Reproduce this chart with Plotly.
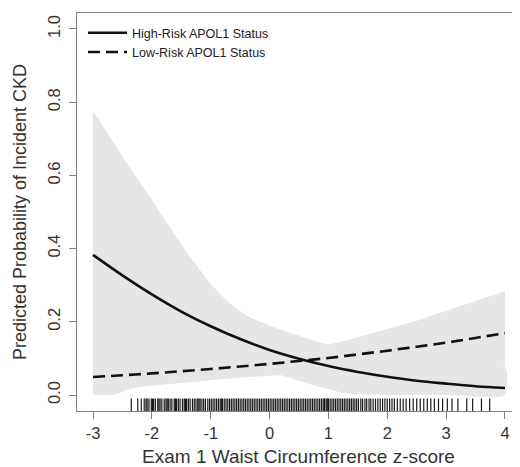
import plotly.graph_objects as go

# ---- data ----
x_grid = [-3, -2.5, -2, -1.5, -1, -0.5, 0, 0.5, 1, 1.5, 2, 2.5, 3, 3.5, 4]
high_risk = [0.383, 0.327, 0.275, 0.228, 0.188, 0.153, 0.123, 0.099, 0.079,
             0.063, 0.050, 0.039, 0.031, 0.024, 0.019]
low_risk = [0.049, 0.054, 0.059, 0.065, 0.071, 0.078, 0.085, 0.093, 0.101,
            0.111, 0.121, 0.132, 0.143, 0.156, 0.169]

# high-risk confidence band
hr_up_x = [-3, -2.75, -2.5, -2.25, -2, -1.75, -1.5, -1.25, -1, -0.75, -0.5,
           -0.25, 0, 0.25, 0.5, 0.75, 1, 1.5, 2, 2.5, 3, 3.5, 4]
hr_up_y = [0.776, 0.715, 0.652, 0.592, 0.533, 0.472, 0.412, 0.356, 0.304,
           0.262, 0.229, 0.206, 0.19, 0.175, 0.162, 0.149, 0.137, 0.118, 0.105,
           0.095, 0.088, 0.082, 0.077]
hr_lo_x = [-3, -2.5, -2, -1.5, -1, -0.5, 0, 0.17, 0.74, 1.31, 2, 3, 4]
hr_lo_y = [0.02, 0.04, 0.06, 0.075, 0.08, 0.075, 0.062, 0.055, 0.027, 0.004,
           0.0, 0.0, 0.0]

# low-risk confidence band
lr_up_x = [-3, -2, -1, 0, 0.5, 1, 1.5, 2, 2.5, 3, 3.5, 4]
lr_up_y = [0.12, 0.11, 0.11, 0.115, 0.125, 0.137, 0.158, 0.18, 0.203, 0.23,
           0.258, 0.284]
lr_lo_x = [-3, -2.66, -2.32, -2, -1.5, -1, -0.5, 0, 0.17, 0.5, 1, 2, 3, 4]
lr_lo_y = [0.0, 0.0, 0.019, 0.025, 0.033, 0.040, 0.048, 0.053, 0.055, 0.058,
           0.062, 0.07, 0.075, 0.08]

# rug of observed waist circumference z-scores
rug_x = [-2.35, -2.24, -2.18, -2.13, -2.1, -2.08, -2.05, -2.01, -1.99, -1.97,
         -1.94, -1.9, -1.88, -1.86, -1.83, -1.79, -1.76, -1.74, -1.72, -1.69,
         -1.66, -1.62, -1.6, -1.58, -1.55, -1.52, -1.48, -1.45, -1.43, -1.41,
         -1.38, -1.35, -1.31, -1.28, -1.25, -1.22, -1.2, -1.18, -1.15, -1.12,
         -1.09, -1.05, -1.02, -0.99, -0.96, -0.93, -0.9, -0.87, -0.84, -0.82,
         -0.8, -0.77, -0.74, -0.71, -0.68, -0.65, -0.62, -0.59, -0.56, -0.53,
         -0.5, -0.47, -0.44, -0.41, -0.38, -0.35, -0.32, -0.29, -0.26, -0.23,
         -0.2, -0.17, -0.14, -0.11, -0.08, -0.05, -0.02, 0.01, 0.04, 0.07, 0.1,
         0.13, 0.16, 0.19, 0.22, 0.25, 0.28, 0.31, 0.34, 0.37, 0.4, 0.43, 0.46,
         0.49, 0.52, 0.55, 0.58, 0.61, 0.64, 0.67, 0.7, 0.73, 0.76, 0.79, 0.82,
         0.85, 0.88, 0.91, 0.93, 0.94, 0.97, 0.99, 1.0, 1.03, 1.06, 1.09, 1.12,
         1.15, 1.18, 1.21, 1.24, 1.27, 1.3, 1.33, 1.36, 1.39, 1.42, 1.45, 1.48,
         1.51, 1.55, 1.58, 1.62, 1.65, 1.69, 1.72, 1.76, 1.8, 1.84, 1.88, 1.92,
         1.96, 2.0, 2.04, 2.08, 2.12, 2.17, 2.22, 2.27, 2.32, 2.38, 2.44, 2.5,
         2.56, 2.62, 2.68, 2.74, 2.8, 2.87, 2.94, 3.02, 3.1, 3.2, 3.35, 3.45,
         3.6, 3.74]
rug_level = -0.027

x_ticks = [-3, -2, -1, 0, 1, 2, 3, 4]
x_tick_text = ["-3", "-2", "-1", "0", "1", "2", "3", "4"]
y_ticks = [0.0, 0.2, 0.4, 0.6, 0.8, 1.0]
y_tick_text = ["0.0", "0.2", "0.4", "0.6", "0.8", "1.0"]

band_color = "#e6e6e6"
font_family = "Liberation Sans, Arial, sans-serif"

fig = go.Figure()

fig.add_trace(go.Scatter(
    x=hr_up_x + hr_lo_x[::-1], y=hr_up_y + hr_lo_y[::-1],
    fill="toself", fillcolor=band_color, line=dict(width=0, shape="spline",
                                                   smoothing=0.6),
    mode="lines", showlegend=False, hoverinfo="skip"))
fig.add_trace(go.Scatter(
    x=lr_up_x + lr_lo_x[::-1], y=lr_up_y + lr_lo_y[::-1],
    fill="toself", fillcolor=band_color, line=dict(width=0),
    mode="lines", showlegend=False, hoverinfo="skip"))

fig.add_trace(go.Scatter(
    x=x_grid, y=high_risk, mode="lines", name="High-Risk APOL1 Status",
    line=dict(color="#111111", width=2.6, shape="spline")))
fig.add_trace(go.Scatter(
    x=x_grid, y=low_risk, mode="lines", name="Low-Risk APOL1 Status",
    line=dict(color="#111111", width=2.6, shape="spline", dash="12px,6px")))

fig.add_trace(go.Scatter(
    x=rug_x, y=[rug_level] * len(rug_x), mode="markers", showlegend=False,
    hoverinfo="skip",
    marker=dict(symbol="line-ns", size=9,
                line=dict(color="rgba(0,0,0,0.9)", width=1.2))))

axis_common = dict(
    showgrid=False, zeroline=False, showline=True, linecolor="#808080",
    linewidth=1, ticks="outside", ticklen=7, tickcolor="#808080",
    tickwidth=1, automargin=False,
    tickfont=dict(size=16.5, color="#333333", family=font_family))

fig.update_xaxes(
    range=[-3.272, 4.255], tickvals=x_ticks, ticktext=x_tick_text, mirror=True,
    title=dict(text="Exam 1 Waist Circumference z-score",
               font=dict(size=19, color="#333333", family=font_family),
               standoff=12),
    **axis_common)
fig.update_yaxes(
    range=[-0.0437, 1.0437], tickvals=y_ticks, ticktext=y_tick_text,
    tickangle=-90, mirror=False, ticklabelstandoff=2,
    title=dict(text="Predicted Probability of Incident CKD",
               font=dict(size=18, color="#333333", family=font_family),
               standoff=14),
    **axis_common)

# the page adds an 8px body margin, so the figure is 8px smaller
fig.update_layout(
    width=512, height=459,
    margin=dict(l=69, r=0, t=5, b=56),
    plot_bgcolor="white", paper_bgcolor="white",
    font=dict(family=font_family, color="#333333"),
    legend=dict(x=0.0135, y=0.987, xanchor="left", yanchor="top",
                bgcolor="rgba(0,0,0,0)", font=dict(size=12.5, color="#222222"),
                tracegroupgap=0, itemwidth=39),
)

fig.write_html("out.html")
